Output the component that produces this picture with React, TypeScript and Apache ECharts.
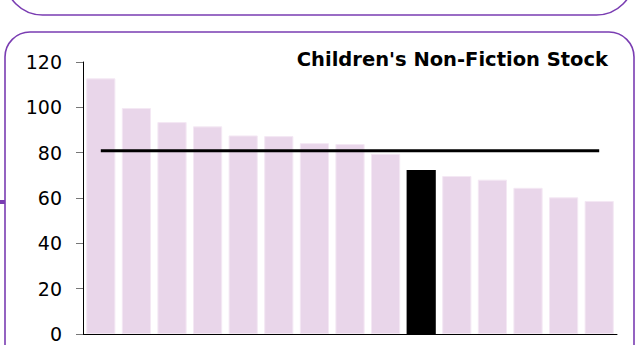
import React, { useEffect, useRef } from "react";
import * as echarts from "echarts";

const categories = ["L1", "L2", "L3", "L4", "L5", "L6", "L7", "L8", "L9", "L10", "L11", "L12", "L13", "L14", "L15"];
const stockValues = [112.8, 99.7, 93.5, 91.6, 87.6, 87.3, 84.2, 83.8, 79.5, 72.3, 69.7, 68.1, 64.5, 60.3, 58.7];
const highlightIndex = 9;
const averageValue = 80.8;
const titleText = "Children's Non-Fiction Stock";

export default function App() {
  const ref = useRef<HTMLDivElement>(null);
  useEffect(() => {
    document.body.style.margin = "0";
    const chart = echarts.init(ref.current!, null, { renderer: "svg" });
    const purple = "#7A3DB2";
    chart.setOption({
      animation: false,
      backgroundColor: "#ffffff",
      title: {
        text: titleText,
        right: 23,
        top: 44,
        textStyle: { fontFamily: "DejaVu Sans", fontWeight: "bold", fontSize: 19.5, color: "#000" },
      },
      grid: { left: 83, right: 19, top: 62, bottom: 11 },
      xAxis: {
        type: "category",
        data: categories,
        axisLine: { show: true, lineStyle: { color: "#000", width: 1 } },
        axisTick: { show: false },
        axisLabel: { show: false },
      },
      yAxis: {
        type: "value",
        min: 0,
        max: 120,
        interval: 20,
        axisLine: { show: true, lineStyle: { color: "#000", width: 1 } },
        axisTick: { show: true, length: 7, lineStyle: { color: "#777", width: 1 } },
        axisLabel: { margin: 21, fontFamily: "DejaVu Sans", fontSize: 19, color: "#000" },
        splitLine: { show: false },
      },
      series: [
        {
          type: "bar",
          barCategoryGap: "18%",
          data: stockValues.map((v, i) => ({
            value: v,
            itemStyle:
              i === highlightIndex
                ? { color: "#000000", borderColor: "#000000", borderWidth: 0 }
                : { color: "#E9D6EA", borderColor: "#F4E8F4", borderWidth: 1 },
          })),
        },
        {
          type: "line",
          data: categories.map(() => averageValue),
          symbol: "none",
          lineStyle: { color: "#000", width: 3 },
          z: 5,
        },
      ],
      graphic: [
        {
          type: "rect",
          shape: { x: 5, y: -60, width: 629, height: 75, r: 40 },
          style: { fill: "none", stroke: purple, lineWidth: 1.6 },
          silent: true,
        },
        {
          type: "rect",
          shape: { x: 5, y: 32, width: 629, height: 340, r: 25 },
          style: { fill: "none", stroke: purple, lineWidth: 1.6 },
          silent: true,
        },
        {
          type: "rect",
          shape: { x: 0, y: 200, width: 5, height: 4 },
          style: { fill: purple },
          silent: true,
        },
      ],
    });
    return () => chart.dispose();
  }, []);
  return <div ref={ref} style={{ position: "fixed", left: 0, top: 0, width: 636, height: 345 }} />;
}
